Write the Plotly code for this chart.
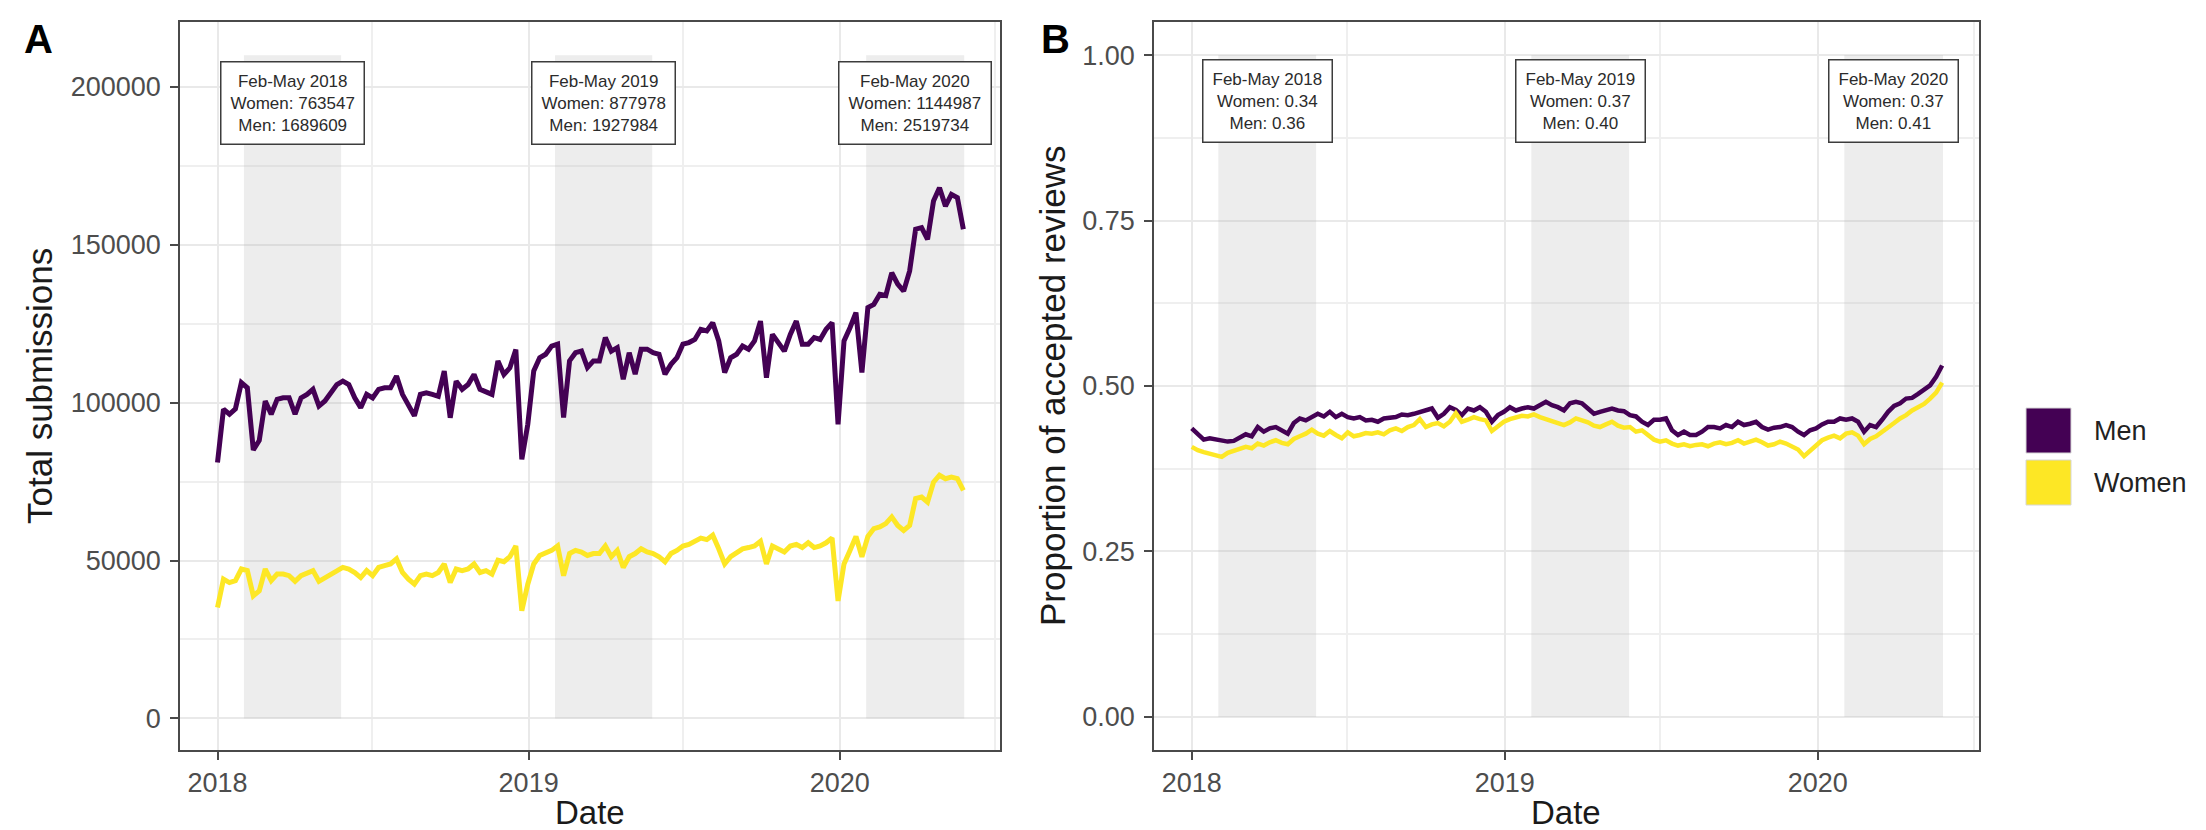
import pandas as pd
import plotly.graph_objects as go

# ---------------- data ----------------
week_start = "2018-01-01"
n_weeks = 126
dates = pd.date_range(week_start, periods=n_weeks, freq="7D")

men_submissions = [
    81000, 97900, 96300, 98000, 106300, 104700, 85000, 88000, 100500, 96300,
    101000, 101500, 101500, 96300, 101500, 102600, 104200, 98900, 100500, 103100,
    105700, 106800, 105700, 101500, 98400, 102600, 101500, 104200, 104700, 104700,
    108400, 102600, 99400, 95800, 102600, 103100, 102600, 102000, 110000, 95200,
    106800, 104200, 105700, 108900, 104200, 103600, 102600, 113200, 108900, 111000,
    116800, 82000,
    93100, 110000, 114200, 115300, 117900, 118500, 95300, 113200, 115800, 116300,
    111100, 113200, 113200, 120600, 116300, 117400, 107400, 115800, 109000, 116900,
    116900, 115800, 115300, 109000, 112100, 114200, 118500, 119000, 120000, 123200,
    122700, 125300, 119500, 109500, 114200, 115300, 117900, 116900, 119500, 125800,
    107900, 121600, 119000, 116300, 121600, 125800, 118500, 118500, 120600, 120000,
    123200, 125300,
    93100, 119500, 123700, 128500, 109500, 130100, 131100, 134300, 133900, 141100,
    137500, 135300, 141700, 154900, 155400, 151700, 163800, 168000, 162200, 165900,
    164900, 154900,
]

women_submissions = [
    35100, 44100, 43000, 43600, 47300, 46800, 38800, 40400, 47300, 43600,
    45700, 45700, 45200, 43400, 45200, 46200, 46800, 43400, 44600, 45700,
    46800, 47800, 47300, 46200, 44600, 46800, 45200, 47800, 48400, 48900,
    50500, 46200, 44100, 42500, 45200, 45700, 45200, 46200, 48900, 43000,
    47300, 46800, 47300, 48900, 46200, 46800, 45700, 50100, 49600, 51200,
    54600, 34100, 42500, 48900, 51600, 52200, 53200, 54600, 45200, 52200,
    53200, 52700, 51600, 52200, 52200, 54600, 51200, 53200, 47800, 51200,
    52200, 53700, 52700, 52200, 51200, 49600, 52200, 53200, 54600, 55100,
    56100, 57100, 56600, 58000, 53700, 48900, 51200, 52700, 53700, 54100,
    54600, 56100, 48900, 54600, 53700, 52700, 54600, 55100, 54100, 55600,
    54100, 54600, 55600, 57100, 37200, 48900, 53200, 57600, 51200, 57600,
    60100, 60600, 61700, 63800, 61100, 59500, 61100, 69600, 70100, 68500,
    74800, 77000, 75900, 76400, 75900, 72200,
]

men_accept = [
    0.436, 0.427, 0.419, 0.421, 0.419, 0.417, 0.416, 0.417, 0.422, 0.427,
    0.424, 0.438, 0.431, 0.436, 0.438, 0.433, 0.428, 0.444, 0.451, 0.448,
    0.453, 0.458, 0.454, 0.461, 0.453, 0.458, 0.453, 0.451, 0.453, 0.448,
    0.449, 0.446, 0.451, 0.452, 0.453, 0.457, 0.456, 0.458, 0.461, 0.463,
    0.466, 0.452, 0.458, 0.468, 0.464, 0.456, 0.466, 0.463, 0.468, 0.461,
    0.446, 0.456, 0.461, 0.468, 0.463, 0.466, 0.468, 0.466, 0.471, 0.476,
    0.471, 0.468, 0.463, 0.474, 0.476, 0.474, 0.466, 0.458, 0.461, 0.463,
    0.466, 0.463, 0.462, 0.456, 0.454, 0.446, 0.441, 0.449, 0.449, 0.451,
    0.433, 0.426, 0.431, 0.426, 0.426, 0.431, 0.438, 0.438, 0.436, 0.441,
    0.438, 0.446, 0.441, 0.443, 0.446, 0.438, 0.434, 0.437, 0.438, 0.441,
    0.438, 0.431, 0.426, 0.433, 0.436, 0.442, 0.446, 0.446, 0.451, 0.449,
    0.451, 0.446, 0.431, 0.441, 0.438, 0.449, 0.461, 0.470, 0.474, 0.481,
    0.482, 0.488, 0.495, 0.501, 0.514, 0.531,
]

women_accept = [
    0.408, 0.403, 0.400, 0.398, 0.396, 0.393, 0.399, 0.402, 0.404, 0.408,
    0.406, 0.413, 0.410, 0.415, 0.418, 0.414, 0.412, 0.420, 0.424, 0.428,
    0.434, 0.428, 0.425, 0.432, 0.426, 0.421, 0.430, 0.424, 0.426, 0.429,
    0.428, 0.430, 0.427, 0.433, 0.436, 0.432, 0.438, 0.441, 0.450, 0.438,
    0.442, 0.444, 0.439, 0.446, 0.459, 0.446, 0.449, 0.453, 0.450, 0.448,
    0.432, 0.440, 0.446, 0.450, 0.452, 0.455, 0.454, 0.457, 0.453, 0.450,
    0.446, 0.443, 0.441, 0.445, 0.451, 0.448, 0.445, 0.440, 0.438, 0.442,
    0.446, 0.440, 0.437, 0.438, 0.431, 0.433, 0.425, 0.419, 0.416, 0.418,
    0.413, 0.410, 0.412, 0.409, 0.411, 0.412, 0.409, 0.413, 0.415, 0.412,
    0.414, 0.418, 0.413, 0.416, 0.419, 0.415, 0.410, 0.412, 0.416, 0.413,
    0.408, 0.404, 0.394, 0.402, 0.409, 0.418, 0.422, 0.425, 0.421, 0.428,
    0.430, 0.425, 0.412, 0.420, 0.424, 0.430, 0.438, 0.444, 0.451, 0.456,
    0.463, 0.468, 0.473, 0.481, 0.490, 0.505,
]

period_start = ["2018-02-01", "2019-02-01", "2020-02-01"]
period_end = ["2018-05-26", "2019-05-26", "2020-05-26"]
period_names = ["Feb-May 2018", "Feb-May 2019", "Feb-May 2020"]
period_women_total = ["763547", "877978", "1144987"]
period_men_total = ["1689609", "1927984", "2519734"]
period_women_prop = ["0.34", "0.37", "0.37"]
period_men_prop = ["0.36", "0.40", "0.41"]

series_names = ["Men", "Women"]
series_colors = ["#440154", "#FDE725"]

# ---------------- layout helpers ----------------
W, H = 2206, 830
FONT = "Liberation Sans, Arial, Helvetica, sans-serif"

def px_x(p):
    return p / W

def px_y(p):
    return 1 - p / H

dmin, dmax = dates.min(), dates.max()
span = dmax - dmin
xrange = [(dmin - span * 0.05).strftime("%Y-%m-%d"), (dmax + span * 0.05).strftime("%Y-%m-%d")]

fig = go.Figure()

line_sets = [
    ("x", "y", [men_submissions, women_submissions], 5.0),
    ("x2", "y2", [men_accept, women_accept], 4.5),
]
for xa, ya, vals, lw in line_sets:
    for name, col, v in zip(series_names, series_colors, vals):
        fig.add_trace(go.Scatter(
            x=dates, y=v, mode="lines", name=name, xaxis=xa, yaxis=ya,
            line=dict(color=col, width=lw), showlegend=False,
        ))

common_axis = dict(
    showline=True, mirror=True, linecolor="#4a4a4a", linewidth=1.6,
    ticks="outside", ticklen=8, tickwidth=1.6, tickcolor="#4a4a4a",
    tickfont=dict(family=FONT, size=27, color="#4d4d4d"),
    showgrid=True, gridcolor="#e9e9e9", gridwidth=2.2, zeroline=False,
)

xaxis_common = dict(
    common_axis, type="date", range=xrange, tick0="2018-01-01", dtick="M12",
    tickformat="%Y",
    minor=dict(dtick="M6", tick0="2018-01-01", showgrid=True,
               gridcolor="#efefef", gridwidth=1.6, ticks=""),
)

ydom = [px_y(742), px_y(14)]
fig.update_layout(
    width=W, height=H, margin=dict(l=0, r=0, t=0, b=0),
    plot_bgcolor="white", paper_bgcolor="white",
    font=dict(family=FONT),
    xaxis=dict(xaxis_common, domain=[px_x(172), px_x(992)], anchor="y"),
    yaxis=dict(common_axis, domain=ydom, anchor="x", range=[-10000, 220500],
               dtick=50000, tick0=0, tickformat="d", ticklabelstandoff=4,
               minor=dict(dtick=25000, tick0=0, showgrid=True,
                          gridcolor="#efefef", gridwidth=1.6, ticks="")),
    xaxis2=dict(xaxis_common, domain=[px_x(1146), px_x(1971)], anchor="y2"),
    yaxis2=dict(common_axis, domain=ydom, anchor="x2", range=[-0.05, 1.05],
                dtick=0.25, tick0=0, tickformat=".2f", ticklabelstandoff=4,
                minor=dict(dtick=0.125, tick0=0, showgrid=True,
                           gridcolor="#efefef", gridwidth=1.6, ticks="")),
)

# shaded Feb-May periods and their labels
panels = [
    ("x", "y", 210000, 195000,
     [f"{n}<br>Women: {w}<br>Men: {m}" for n, w, m in zip(period_names, period_women_total, period_men_total)]),
    ("x2", "y2", 1.0, 0.93,
     [f"{n}<br>Women: {w}<br>Men: {m}" for n, w, m in zip(period_names, period_women_prop, period_men_prop)]),
]
for xa, ya, ytop, ylab, texts in panels:
    for s, e, t in zip(period_start, period_end, texts):
        fig.add_shape(type="rect", xref=xa, yref=ya, x0=s, x1=e, y0=0, y1=ytop,
                      fillcolor="rgba(185,185,185,0.25)", line=dict(width=0),
                      layer="between")
        mid = pd.Timestamp(s) + (pd.Timestamp(e) - pd.Timestamp(s)) / 2
        fig.add_annotation(x=mid.strftime("%Y-%m-%d"), y=ylab, xref=xa, yref=ya,
                           text=t, showarrow=False, xanchor="center", yanchor="middle",
                           font=dict(family=FONT, size=17, color="#2b2b2b"),
                           bgcolor="white", bordercolor="#3c3c3c", borderwidth=1.5,
                           borderpad=9)

# axis titles and panel letters
title_font = dict(family=FONT, size=35, color="#1a1a1a")
fig.add_annotation(x=px_x(31), y=px_y(378), xref="paper", yref="paper",
                   text="Total submissions", textangle=-90, showarrow=False,
                   xanchor="center", yanchor="middle", font=title_font)
fig.add_annotation(x=px_x(1044), y=px_y(378), xref="paper", yref="paper",
                   text="Proportion of accepted reviews", textangle=-90, showarrow=False,
                   xanchor="center", yanchor="middle", font=title_font)
for cx in (582, 1558.5):
    fig.add_annotation(x=px_x(cx), y=px_y(804), xref="paper", yref="paper",
                       text="Date", showarrow=False, xanchor="center", yanchor="middle",
                       font=dict(family=FONT, size=33, color="#1a1a1a"))
for letter, cx in (("A", 30), ("B", 1047)):
    fig.add_annotation(x=px_x(cx), y=px_y(31), xref="paper", yref="paper",
                       text=f"<b>{letter}</b>", showarrow=False, xanchor="center",
                       yanchor="middle", font=dict(family=FONT, size=40, color="black"))

# legend (filled keys)
key_tops = [400, 452]
for name, col, top in zip(series_names, series_colors, key_tops):
    fig.add_shape(type="rect", xref="paper", yref="paper",
                  x0=px_x(2018), x1=px_x(2063), y0=px_y(top + 45), y1=px_y(top),
                  fillcolor=col, line=dict(color="#d6d6d6", width=1))
    fig.add_annotation(x=px_x(2084), y=px_y(top + 22.5), xref="paper", yref="paper",
                       text=name, showarrow=False, xanchor="left", yanchor="middle",
                       font=dict(family=FONT, size=27, color="#222222"))

fig.write_html("out.html")
